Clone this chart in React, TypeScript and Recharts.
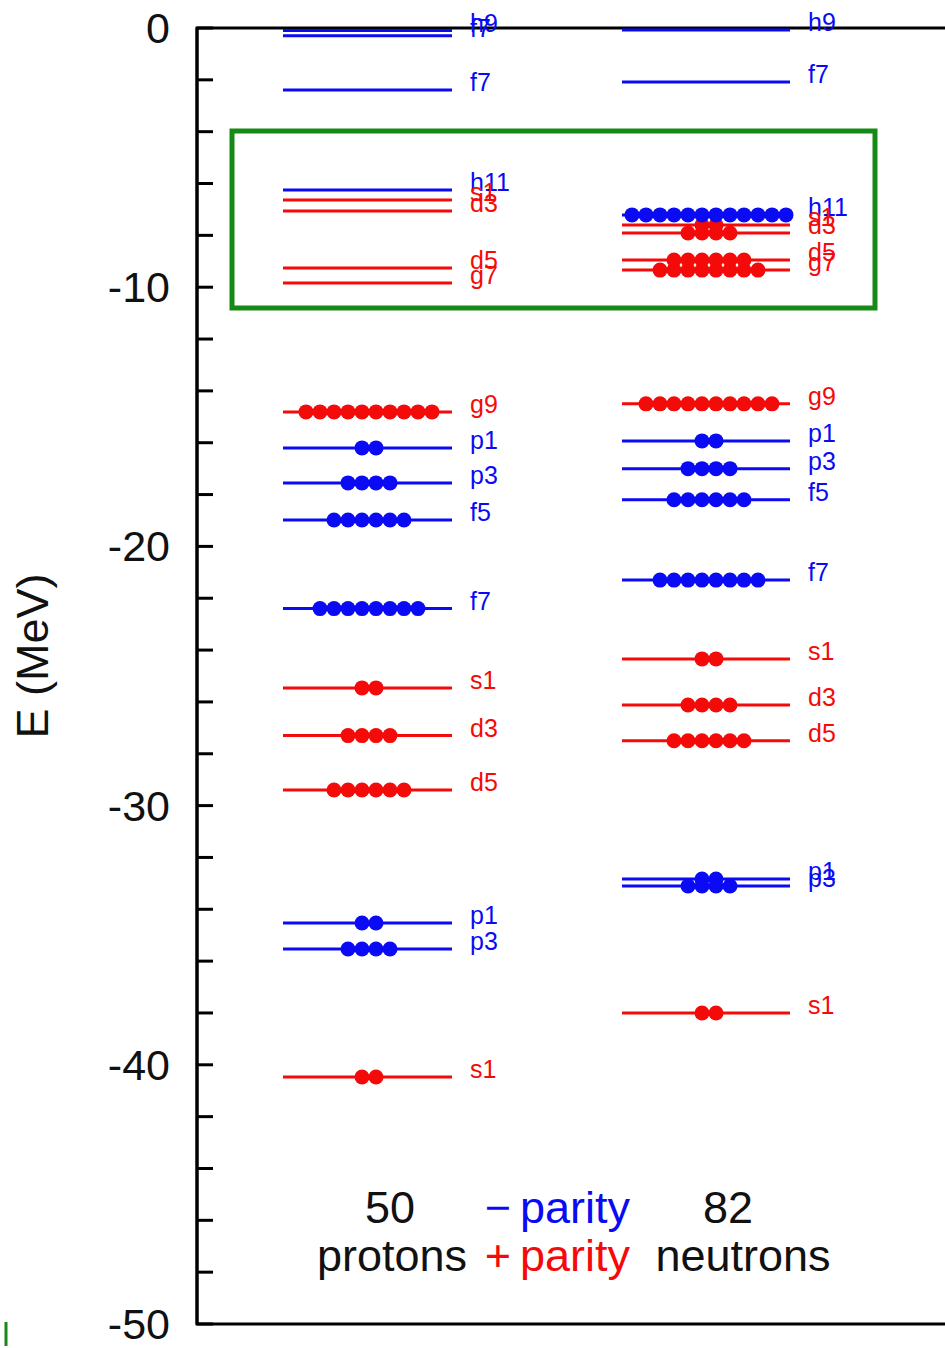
import React from 'react';
import {
  ComposedChart, XAxis, YAxis, Scatter, ReferenceLine, ReferenceArea, Customized,
} from 'recharts';

// levels: energy in MeV, occupied states, parity
type Level = { label: string; e: number; n: number; parity: '-' | '+' };

const protonLevels: Level[] = [
  { label: 'h9', e: -0.1, n: 0, parity: '-' },
  { label: 'f7', e: -0.3, n: 0, parity: '-' },
  { label: 'f7', e: -2.39, n: 0, parity: '-' },
  { label: 'h11', e: -6.25, n: 0, parity: '-' },
  { label: 's1', e: -6.64, n: 0, parity: '+' },
  { label: 'd3', e: -7.06, n: 0, parity: '+' },
  { label: 'd5', e: -9.26, n: 0, parity: '+' },
  { label: 'g7', e: -9.84, n: 0, parity: '+' },
  { label: 'g9', e: -14.81, n: 10, parity: '+' },
  { label: 'p1', e: -16.2, n: 2, parity: '-' },
  { label: 'p3', e: -17.55, n: 4, parity: '-' },
  { label: 'f5', e: -18.98, n: 6, parity: '-' },
  { label: 'f7', e: -22.4, n: 8, parity: '-' },
  { label: 's1', e: -25.46, n: 2, parity: '+' },
  { label: 'd3', e: -27.3, n: 4, parity: '+' },
  { label: 'd5', e: -29.4, n: 6, parity: '+' },
  { label: 'p1', e: -34.53, n: 2, parity: '-' },
  { label: 'p3', e: -35.53, n: 4, parity: '-' },
  { label: 's1', e: -40.47, n: 2, parity: '+' },
];

const neutronLevels: Level[] = [
  { label: 'h9', e: -0.08, n: 0, parity: '-' },
  { label: 'f7', e: -2.08, n: 0, parity: '-' },
  { label: 'h11', e: -7.21, n: 12, parity: '-' },
  { label: 's1', e: -7.6, n: 2, parity: '+' },
  { label: 'd3', e: -7.91, n: 4, parity: '+' },
  { label: 'd5', e: -8.95, n: 6, parity: '+' },
  { label: 'g7', e: -9.34, n: 8, parity: '+' },
  { label: 'g9', e: -14.5, n: 10, parity: '+' },
  { label: 'p1', e: -15.93, n: 2, parity: '-' },
  { label: 'p3', e: -17.0, n: 4, parity: '-' },
  { label: 'f5', e: -18.2, n: 6, parity: '-' },
  { label: 'f7', e: -21.3, n: 8, parity: '-' },
  { label: 's1', e: -24.34, n: 2, parity: '+' },
  { label: 'd3', e: -26.12, n: 4, parity: '+' },
  { label: 'd5', e: -27.5, n: 6, parity: '+' },
  { label: 'p1', e: -32.83, n: 2, parity: '-' },
  { label: 'p3', e: -33.1, n: 4, parity: '-' },
  { label: 's1', e: -38.0, n: 2, parity: '+' },
];

const yTicks = [0, -2, -4, -6, -8, -10, -12, -14, -16, -18, -20, -22, -24, -26, -28, -30,
  -32, -34, -36, -38, -40, -42, -44, -46, -48, -50];

// layout (x axis is in pixel-like units, 0 = left axis)
const W = 960;
const H = 1348;
const LEFT = 197;
const TOP = 28;
const BOTTOM = 24;
const X_MAX = 760;
const DOT_STEP = 14;

const columns = [
  { levels: protonLevels, x1: 86, x2: 255, dotCenter: 172, labelX: 273 },
  { levels: neutronLevels, x1: 425, x2: 593, dotCenter: 512, labelX: 611 },
];

const BLUE = '#0a0af5';
const RED = '#f50a0a';
const GREEN = '#168a16';
const FONT = '"Liberation Sans", Arial, Helvetica, sans-serif';

const color = (p: string) => (p === '-' ? BLUE : RED);

const makeDots = (parity: string) =>
  columns.flatMap((c) =>
    c.levels
      .filter((l) => l.parity === parity)
      .flatMap((l) =>
        Array.from({ length: l.n }, (_, i) => ({
          x: c.dotCenter + (i - (l.n - 1) / 2) * DOT_STEP,
          y: l.e,
          parity: l.parity,
        })),
      ),
  );

const redDots = makeDots('+');
const blueDots = makeDots('-');

const labels = columns.flatMap((c) =>
  c.levels.map((l) => ({ x: c.labelX, y: l.e, label: l.label, parity: l.parity })),
);

const Tick = (props: any) => {
  const { y, payload } = props;
  const major = payload.value % 10 === 0;
  return (
    <g>
      <line x1={LEFT} x2={LEFT + 16} y1={y} y2={y} stroke="#000" strokeWidth={3} />
      {major && (
        <text x={170} y={y} dy={15} textAnchor="end" fontSize={43} fontFamily={FONT} fill="#111">
          {payload.value}
        </text>
      )}
    </g>
  );
};

const Dot = (props: any) => {
  const { cx, cy, payload } = props;
  return <circle cx={cx} cy={cy} r={7.5} fill={color(payload.parity)} />;
};

const LevelLabel = (props: any) => {
  const { cx, cy, payload } = props;
  return (
    <text x={cx} y={cy} dy={1} fontSize={25} fontFamily={FONT} fill={color(payload.parity)}>
      {payload.label}
    </text>
  );
};

const Annotations = () => (
  <g fontFamily={FONT} fontSize={45}>
    <text x={33} y={656} textAnchor="middle" transform="rotate(-90 33 656)" dy={15} fill="#111">
      E (MeV)
    </text>
    <text x={390} y={1223} textAnchor="middle" fill="#111">50</text>
    <text x={392} y={1271} textAnchor="middle" fill="#111">protons</text>
    <text x={498} y={1223} textAnchor="middle" fill={BLUE}>−</text>
    <text x={520} y={1223} fill={BLUE}>parity</text>
    <text x={498} y={1271} textAnchor="middle" fill={RED}>+</text>
    <text x={520} y={1271} fill={RED}>parity</text>
    <text x={728} y={1223} textAnchor="middle" fill="#111">82</text>
    <text x={743} y={1271} textAnchor="middle" fill="#111">neutrons</text>
    <line x1={6} x2={6} y1={1322} y2={1346} stroke={GREEN} strokeWidth={3} />
  </g>
);

export default function App() {
  return (
    <div style={{ position: 'absolute', left: 0, top: 0, width: 945, height: H, overflow: 'hidden', background: '#fff' }}>
      <ComposedChart width={W} height={H} margin={{ top: TOP, right: W - LEFT - X_MAX, bottom: BOTTOM, left: 0 }}>
        <XAxis type="number" dataKey="x" domain={[0, X_MAX]} hide />
        <YAxis
          type="number"
          domain={[-50, 0]}
          ticks={yTicks}
          width={LEFT}
          interval={0}
          tickLine={false}
          tick={<Tick />}
          axisLine={{ stroke: '#000', strokeWidth: 3 }}
        />
        <ReferenceArea x1={0} x2={X_MAX} y1={-50} y2={0} fill="none" stroke="#000" strokeWidth={3} />
        <ReferenceArea x1={35} x2={678} y1={-10.8} y2={-3.97} fill="none" stroke={GREEN} strokeWidth={5} />
        {columns.flatMap((c, ci) =>
          c.levels.map((l, li) => (
            <ReferenceLine
              key={`${ci}-${li}`}
              segment={[{ x: c.x1, y: l.e }, { x: c.x2, y: l.e }]}
              stroke={color(l.parity)}
              strokeWidth={3}
            />
          )),
        )}
        <Scatter data={redDots} dataKey="y" shape={<Dot />} isAnimationActive={false} />
        <Scatter data={blueDots} dataKey="y" shape={<Dot />} isAnimationActive={false} />
        <Scatter data={labels} dataKey="y" shape={<LevelLabel />} isAnimationActive={false} />
        <Customized component={Annotations} />
      </ComposedChart>
    </div>
  );
}
